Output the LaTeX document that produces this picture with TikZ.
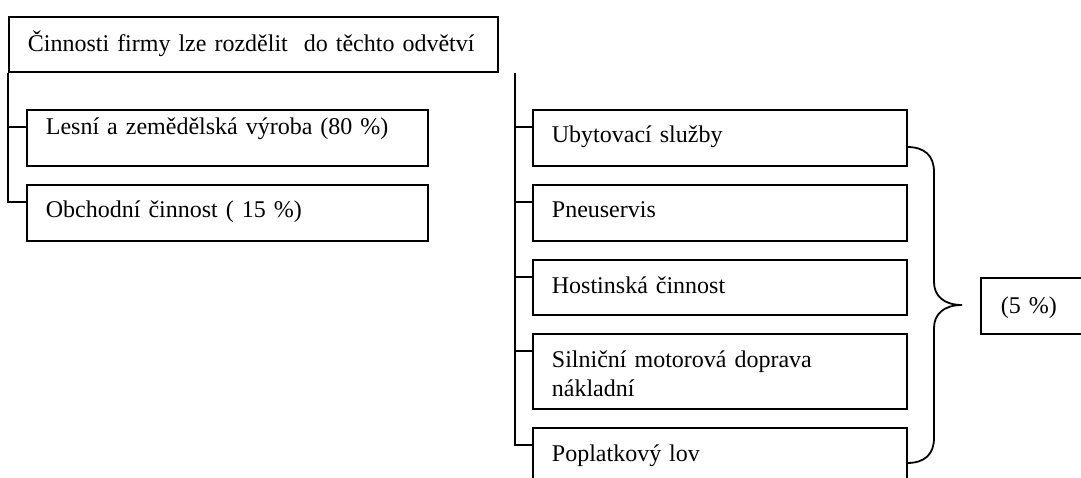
\documentclass[tikz,border=0pt]{standalone}
\usepackage{fontspec}
\setmainfont{Liberation Serif}
\usetikzlibrary{positioning}
\tikzset{%
  every box/.style={
    draw,
    anchor=north west,
    inner sep=0pt
  },
  box text/.style={
    anchor=base west,
    inner sep=0pt,
    xshift=19pt,
    yshift=-34pt,
    text width=360pt,
    align=left,
    font=\fontsize{24}{29}\selectfont
  },
}

\begin{document}
\begin{tikzpicture}[x=1pt, y=-1pt, line width=1.8pt]

\clip (0,0) rectangle (1081,478);

\node [every box, minimum width=489pt, minimum height=55pt,
  label={[box text, text width=470pt, yshift=-2pt]north west:Činnosti firmy lze rozdělit~ do těchto odvětví}]
  (top) at (8,16) {};

\node [every box, minimum width=401pt, minimum height=56pt,
  label={[box text, yshift=8pt]north west:Lesní a zemědělská výroba (80 \%)}]
  (lesni) at (26,109) {};
\node [every box, minimum width=401pt, minimum height=56pt,
  label={[box text]north west:Obchodní činnost ( 15 \%)}]
  (obch) at (26,184) {};

\foreach \m/\y/\h/\lbl in {ubyt/109/56/Ubytovací služby,
                           pneu/184/56/Pneuservis,
                           host/259/55/Hostinská činnost,
                           siln/333/75/{Silniční motorová doprava\\nákladní},
                           popl/427/62/Poplatkový lov}
{
  \node [every box, minimum width=374pt, minimum height=\h pt,
    label={[box text]north west:\lbl}] (\m) at (532,\y) {};
  \coordinate (\m-in) at ([yshift=-18pt]\m.north west);
}

\node [every box, minimum width=150pt, minimum height=56pt,
  label={[box text, xshift=1pt, yshift=-2pt]north west:(5 \%)}]
  (pct) at (980,277) {};

% left branches
\foreach \m in {lesni,obch}
  \coordinate (\m-in) at ([yshift=-18pt]\m.north west);
\draw (top.south west) |- (obch-in);
\draw (lesni-in) -- (lesni-in -| top.south west);

% right branches
\coordinate (trunk) at ([xshift=16pt]top.south east);
\draw (trunk) |- (popl-in);
\foreach \m in {ubyt,pneu,host,siln}
  \draw (\m-in) -- (\m-in -| trunk);

% brace
\draw (907,147) .. controls (925,147) and (934,156) .. (934,172)
  -- (934,282) .. controls (934,296) and (944,305) .. (962,305)
  .. controls (944,305) and (934,314) .. (934,328)
  -- (934,438) .. controls (934,454) and (925,463) .. (907,463);

\end{tikzpicture}
\end{document}
